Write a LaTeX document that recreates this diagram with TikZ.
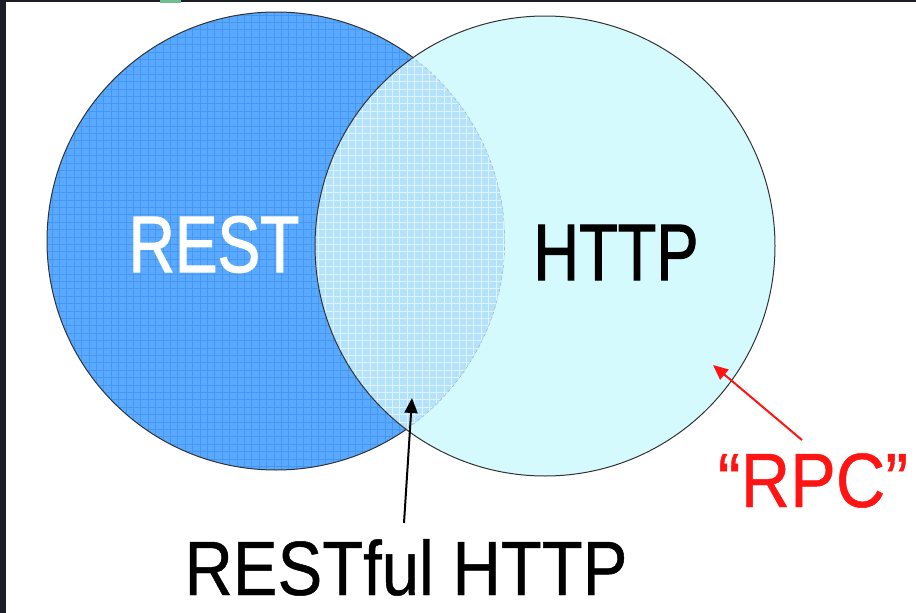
\documentclass[tikz,border=0pt]{standalone}
\usepackage{fontspec}
\setmainfont{Liberation Sans}
\newfontfamily\heavyface[FakeBold=1.6]{Liberation Sans}
\newfontfamily\mediumface[FakeBold=0.6]{Liberation Sans}
\usepackage{graphicx}
\usetikzlibrary{arrows.meta}

\definecolor{restblue}{HTML}{58A9FF}
\definecolor{restgrid}{HTML}{4597F0}
\definecolor{httpcyan}{HTML}{D4FAFD}
\definecolor{bothblue}{HTML}{B4E2FA}
\definecolor{bothgrid}{HTML}{DDF3FD}
\definecolor{rpcred}{HTML}{FF1414}
\definecolor{framedark}{HTML}{1B1E25}
\definecolor{tabgreen}{HTML}{6DBF8F}

\begin{document}
\begin{tikzpicture}[x=1pt,y=-1pt,
  setname/.style={font=\heavyface\fontsize{80}{82}\selectfont,inner sep=0pt,anchor=base},
  callout/.style={font=\mediumface\fontsize{77}{79}\selectfont,inner sep=0pt,anchor=base},
  rim/.style={draw=black!80,line width=1pt},
  ptr/.style={line width=2pt,-{Triangle[width=13pt,length=15pt]}}]

\useasboundingbox (0,0) rectangle (916,613);
\fill[white] (0,0) rectangle (916,613);
\fill[framedark] (0,0) rectangle (6,613);
\fill[framedark] (0,0) rectangle (916,2);
\fill[tabgreen] (160,0) rectangle (181,2.5);

\coordinate (restc) at (276,241);
\coordinate (httpc) at (545,246);

% REST set
\fill[restblue] (restc) circle[radius=229];
\begin{scope}
\clip (restc) circle[radius=229];
\draw[restgrid,line width=0.45pt,step=7.4pt] (40,0) grid (520,480);
\end{scope}
\draw[rim] (restc) circle[radius=229];

% HTTP set
\fill[httpcyan] (httpc) circle[radius=230];

% overlap
\begin{scope}
\clip (restc) circle[radius=229];
\clip (httpc) circle[radius=230];
\fill[bothblue] (300,0) rectangle (520,480);
\draw[bothgrid,line width=0.45pt,step=7.4pt] (300,0) grid (520,480);
\draw[black!35,line width=0.8pt,dashed] (restc) circle[radius=229];
\end{scope}
\draw[rim] (httpc) circle[radius=230];

\node[setname,white] (rest) at (214,272) {\scalebox{0.80}[1]{REST}};
\node[setname] (http) at (616,280) {\scalebox{0.79}[1]{HTTP}};

\node[callout] (restful) at (406,595) {\scalebox{0.87}[1]{RESTful HTTP}};
\node[callout,rpcred] (rpc) at (813,507) {\scalebox{0.89}[1]{“RPC”}};

\coordinate (restfultip) at (412,398);
\coordinate (rpctip) at (713,365);

\draw[ptr] ([xshift=-2pt,yshift=16pt]restful.north) -- (restfultip);
\draw[ptr,rpcred] ([xshift=-11pt,yshift=13pt]rpc.north) -- (rpctip);

\end{tikzpicture}
\end{document}
